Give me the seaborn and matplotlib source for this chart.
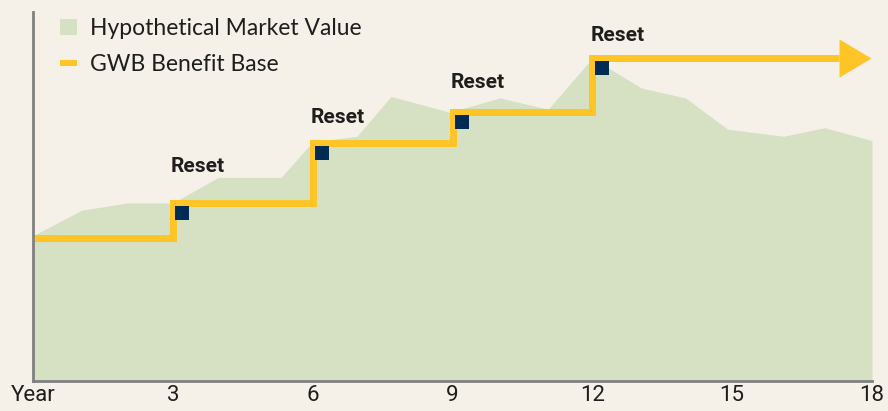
import numpy as np
import matplotlib
matplotlib.use("Agg")
import matplotlib.pyplot as plt
import seaborn as sns
from matplotlib.patches import Patch
from matplotlib.lines import Line2D

# hypothetical market value
mv_years = [0, 1.05, 2.02, 3.0, 3.97, 5.32, 6.0, 6.95, 7.68, 8.94, 10.02, 11.05,
            12.0, 13.05, 14.0, 14.9, 16.1, 16.98, 18]
mv_values = [102, 120, 125, 125, 143, 143, 168, 172, 200, 189, 199, 191,
             227, 206, 199, 177, 172, 178, 169]

# GWB benefit base (steps up at every reset)
bb_years = [0, 3, 6, 9, 12, 17.3]
bb_values = [100, 125, 167, 189, 227, 227]

reset_years = [3, 6, 9, 12]
reset_values = [125, 167, 189, 227]
reset_label_y = [147, 181, 206, 239]

tick_pos = [0, 3, 6, 9, 12, 15, 18]
tick_labels = ["Year", "3", "6", "9", "12", "15", "18"]

BG = "#F5F1E9"
GREEN = "#D6E1C3"
YELLOW = "#FFC425"
NAVY = "#002B54"
TXT = "#1E1E1E"

sns.set_theme(style="white")
plt.rcParams["font.family"] = ["Lato", "DejaVu Sans"]

fig = plt.figure(figsize=(8.88, 4.11), dpi=100)
fig.patch.set_facecolor(BG)
ax = fig.add_axes([33 / 888, 30.5 / 411, 839 / 888, 368.5 / 411])
ax.set_facecolor(BG)

ax.fill_between(mv_years, mv_values, 0, color=GREEN, lw=0, zorder=1)

sns.lineplot(x=bb_years, y=bb_values, drawstyle="steps-post", color=YELLOW,
             lw=5, ax=ax, zorder=3, solid_joinstyle="miter", solid_capstyle="butt")
# arrow head at the end of the benefit base
head = [(-0.84, -1), (0.84, 0), (-0.84, 1)]
ax.plot([bb_years[-1] + 0.34], [bb_values[-1]], marker=head, ms=27.4,
        color=YELLOW, mew=0, clip_on=False, zorder=3)

sns.scatterplot(x=np.array(reset_years) + 0.2, y=np.array(reset_values) - 7,
                marker="s", s=90, color=NAVY, linewidth=0, ax=ax, zorder=4)

for yr, ly in zip(reset_years, reset_label_y):
    ax.text(yr + 0.54, ly, "Reset", ha="center", va="baseline", fontsize=15,
            fontweight="bold", color=TXT, family=["Roboto", "DejaVu Sans"])

ax.set_xlim(0, 18)
ax.set_ylim(0, 259.5)
ax.set_xticks(tick_pos)
ax.set_xticklabels(tick_labels, family=["Roboto", "DejaVu Sans"],
                   fontsize=16, color=TXT)
ax.set_yticks([])
ax.tick_params(axis="x", direction="in", length=6.5, width=1.2, color="white",
               pad=3.5, bottom=True)
for t in (ax.xaxis.get_major_ticks()[0], ax.xaxis.get_major_ticks()[-1]):
    t.tick1line.set_visible(False)
ax.set_xlabel("")
ax.set_ylabel("")

sns.despine(ax=ax, top=True, right=True)
for s in ("left", "bottom"):
    ax.spines[s].set_color("#808080")
    ax.spines[s].set_linewidth(2)
    ax.spines[s].set_zorder(5)

handles = [Patch(facecolor=GREEN, edgecolor="none"),
           Line2D([], [], color=YELLOW, lw=4.3, solid_capstyle="butt")]
leg = ax.legend(handles, ["Hypothetical Market Value", "GWB Benefit Base"],
                loc="upper left", bbox_to_anchor=(60 / 888, 1 - 18 / 411),
                bbox_transform=fig.transFigure, frameon=False, fontsize=16.5,
                handlelength=0.75, handleheight=0.75, handletextpad=0.55,
                labelspacing=0.66, borderpad=0, borderaxespad=0)
for t in leg.get_texts():
    t.set_color(TXT)

fig.savefig("out.png", dpi=100, facecolor=BG)
